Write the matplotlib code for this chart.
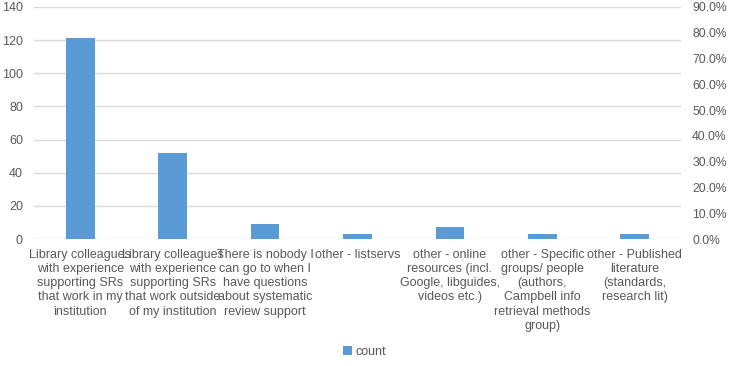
import matplotlib.pyplot as plt
from matplotlib.ticker import PercentFormatter

plt.rcParams['font.family'] = ['Liberation Sans', 'DejaVu Sans']
plt.rcParams['font.size'] = 9

categories = [
    "Library colleagues\nwith experience\nsupporting SRs\nthat work in my\ninstitution",
    "Library colleagues\nwith experience\nsupporting SRs\nthat work outside\nof my institution",
    "There is nobody I\ncan go to when I\nhave questions\nabout systematic\nreview support",
    "other - listservs",
    "other - online\nresources (incl.\nGoogle, libguides,\nvideos etc.)",
    "other - Specific\ngroups/ people\n(authors,\nCampbell info\nretrieval methods\ngroup)",
    "other - Published\nliterature\n(standards,\nresearch lit)",
]
counts = [121, 52, 9, 3, 7, 3, 3]

TEXT = "#595959"
GRID = "#d9d9d9"
BAR = "#5b9bd5"

fig = plt.figure(figsize=(7.3, 3.66), dpi=100)
ax = fig.add_axes([34 / 730, 127 / 366, 647 / 730, 232 / 366])

x = range(len(categories))
ax.bar(x, counts, width=0.31, color=BAR, label="count", zorder=3)

ax.set_xlim(-0.5, len(categories) - 0.5)
ax.set_ylim(0, 140)
ax.set_yticks(range(0, 141, 20))
ax.yaxis.grid(True, color=GRID, linewidth=1, zorder=0)
ax.set_xticks(list(x))
ax.set_xticklabels(categories, color=TEXT, linespacing=1.25)
ax.tick_params(axis="both", length=0, colors=TEXT, labelsize=9)
ax.tick_params(axis="y", pad=8)
ax.tick_params(axis="x", pad=7)
for s in ax.spines.values():
    s.set_visible(False)

ax2 = ax.twinx()
ax2.set_ylim(0, 0.9)
ax2.set_yticks([i / 10 for i in range(10)])
ax2.yaxis.set_major_formatter(PercentFormatter(1.0, decimals=1))
ax2.tick_params(axis="y", length=0, colors=TEXT, labelsize=8.7, pad=8)
for s in ax2.spines.values():
    s.set_visible(False)

fig.legend(loc="center", bbox_to_anchor=(365 / 730, 1 - 352 / 366), frameon=False,
           handlelength=0.7, handleheight=0.7, handletextpad=0.3,
           labelcolor=TEXT, fontsize=9)

fig.savefig("out.png", dpi=100)
